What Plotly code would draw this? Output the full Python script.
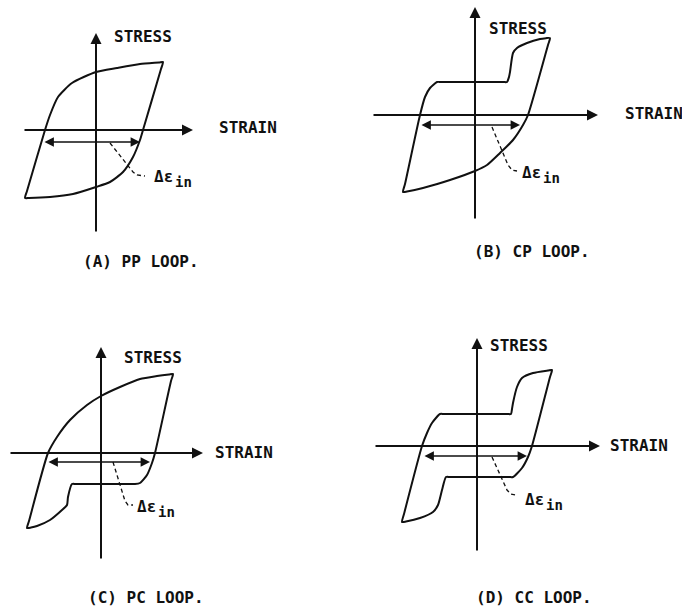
"""Four schematic stress-strain hysteresis loops (PP, CP, PC, CC)."""

import plotly.graph_objects as go

W, H = 682, 611
INK = "#111111"
FONT = "DejaVu Sans Mono"

# panel keys, captions and where each panel's origin sits on the page (px)
PANELS = ["A", "B", "C", "D"]
CAPTIONS = ["(A) PP LOOP.", "(B) CP LOOP.", "(C) PC LOOP.", "(D) CC LOOP."]
ORIGIN_X = [96, 475, 101, 477]
ORIGIN_Y = [130, 115, 453, 446]

# loop outlines in local strain / stress units
LOOP_STRAIN = {
    "A": [-71, -69, -51, -46, -38, -24, 0, 21, 44, 63, 67, 65, 47, 44, 37, 27, 14, 0, -23, -46, -67, -71],
    "B": [-72, -70, -55, -50, -45, -38, -34, 28, 32, 34, 35, 38, 42, 52, 65, 71, 75, 73, 53, 48, 38, 25,
          12, 0, -25, -52, -68, -72],
    "C": [-74, -72, -53, -44, -31, -14, 0, 19, 39, 56, 68, 72, 70, 54, 51, 46, 39, 34, 30, -25, -29,
          -33, -34, -39, -51, -64, -70, -74],
    "D": [-75, -73, -55, -50, -45, -37, -33, 30, 34, 35, 36, 40, 45, 56, 71, 75, 73, 55, 51, 45, 36, 32,
          -27, -31, -35, -39, -44, -57, -71, -75],
}
LOOP_STRESS = {
    "A": [-68, -61, 0, 15, 33, 47, 58, 62, 66, 67.6, 68, 61, 0, -10, -27, -42, -52, -57, -64, -67, -68, -68],
    "B": [-77, -69, 0, 18, 27, 33, 33, 33, 33, 38, 43, 62, 67, 72, 76, 76.8, 77, 70, 0, -10, -25, -38,
          -50, -56, -65, -73, -76.5, -77],
    "C": [-75, -68, 0, 16, 33, 48, 57, 66, 74, 77, 78.6, 79, 72, 0, -10, -22, -30, -31, -31, -31, -31,
          -44, -52, -57, -67, -73, -74.5, -75],
    "D": [-76, -68, 0, 13, 23, 32, 32, 32, 32, 37, 43, 59, 68, 73, 75.5, 76, 69, 0, -11, -22, -31, -31,
          -31, -31, -44, -59, -66, -72, -75.5, -76],
}

# axis extents (local units): strain axis left/right, stress axis bottom/top
AXIS_LEFT = [-73, -103, -92, -103]
AXIS_RIGHT = [97, 123, 102, 123]
AXIS_BOTTOM = [-103, -105, -107, -106]
AXIS_TOP = [97, 108, 106, 108]

# inelastic strain range arrow: level and ends
RANGE_Y = [-12, -10, -9, -10]
RANGE_X0 = [-53, -55, -54, -54]
RANGE_X1 = [44, 45, 49, 50]

# dashed leader to the delta-epsilon label
LEADER_X = {"A": [14, 37, 41, 49], "B": [17, 33, 37, 42], "C": [12, 24, 27, 32], "D": [15, 30, 34, 39]}
LEADER_Y = {"A": [-13, -42, -45, -46], "B": [-12, -50, -55, -56], "C": [-9, -48, -52, -52], "D": [-11, -44, -48, -49]}

# label positions (local units)
STRESS_POS = [(47, 94), (43, 87), (52, 96), (42, 101)]
STRAIN_POS = [(121, 3), (148, 2), (112, 1), (131, 1)]
DELTA_POS = [(56, -46), (45, -57), (34, -53), (46, -53)]
CAPTION_POS = [(45, -131), (57, -136), (45, -144), (57, -151)]

fig = go.Figure()
annotations = []

for i, key in enumerate(PANELS):
    n = "" if i == 0 else str(i + 1)
    xref, yref = "x" + n, "y" + n
    ox, oy = ORIGIN_X[i], ORIGIN_Y[i]

    # every panel gets full-page axes, shifted so its origin lands in place
    fig.update_layout(**{
        "xaxis" + n: dict(range=[-ox, W - ox], domain=[0, 1], visible=False,
                          anchor=yref, **({} if i == 0 else {"overlaying": "x"})),
        "yaxis" + n: dict(range=[oy - H, oy], domain=[0, 1], visible=False,
                          anchor=xref, **({} if i == 0 else {"overlaying": "y"})),
    })

    fig.add_trace(go.Scatter(
        x=LOOP_STRAIN[key], y=LOOP_STRESS[key], mode="lines",
        line=dict(color=INK, width=2, shape="spline", smoothing=0.6),
        xaxis=xref, yaxis=yref, showlegend=False, hoverinfo="skip",
    ))
    fig.add_trace(go.Scatter(
        x=LEADER_X[key], y=LEADER_Y[key], mode="lines",
        line=dict(color=INK, width=1.3, dash="4px,3px"), xaxis=xref, yaxis=yref,
        showlegend=False, hoverinfo="skip",
    ))

    arrow = dict(xref=xref, yref=yref, axref=xref, ayref=yref, text="",
                 showarrow=True, arrowcolor=INK, standoff=0, startstandoff=0)
    # stress axis
    annotations.append(dict(arrow, x=0, y=AXIS_TOP[i], ax=0, ay=AXIS_BOTTOM[i],
                            arrowhead=2, arrowsize=1.1, arrowwidth=2))
    # strain axis
    annotations.append(dict(arrow, x=AXIS_RIGHT[i], y=0, ax=AXIS_LEFT[i], ay=0,
                            arrowhead=2, arrowsize=1.1, arrowwidth=2))
    # inelastic strain range
    annotations.append(dict(arrow, x=RANGE_X1[i], y=RANGE_Y[i], ax=RANGE_X0[i], ay=RANGE_Y[i],
                            arrowhead=2, startarrowhead=2, arrowside="end+start",
                            arrowsize=1.1, startarrowsize=1.1, arrowwidth=1.7))

    font = dict(family=FONT, size=16, color=INK, weight="bold")
    txt = dict(xref=xref, yref=yref, showarrow=False, font=font)
    annotations.append(dict(txt, text="STRESS", x=STRESS_POS[i][0], y=STRESS_POS[i][1],
                            xanchor="center", yanchor="middle"))
    annotations.append(dict(txt, text="STRAIN", x=STRAIN_POS[i][0], y=STRAIN_POS[i][1],
                            xanchor="left", yanchor="middle"))
    dx, dy = DELTA_POS[i]
    annotations.append(dict(txt, text="Δε", x=dx, y=dy, xanchor="left", yanchor="middle",
                            font=dict(font, size=16)))
    annotations.append(dict(txt, text="in", x=dx + 21, y=dy - 6, xanchor="left", yanchor="middle",
                            font=dict(font, size=14)))
    annotations.append(dict(txt, text=CAPTIONS[i], x=CAPTION_POS[i][0], y=CAPTION_POS[i][1],
                            xanchor="center", yanchor="middle"))

fig.update_layout(
    width=W, height=H,
    paper_bgcolor="white", plot_bgcolor="white",
    margin=dict(l=0, r=0, t=0, b=0),
    annotations=annotations,
)

fig.write_html("out.html", config={"displayModeBar": False},
               post_script="document.body.style.margin = '0';")
